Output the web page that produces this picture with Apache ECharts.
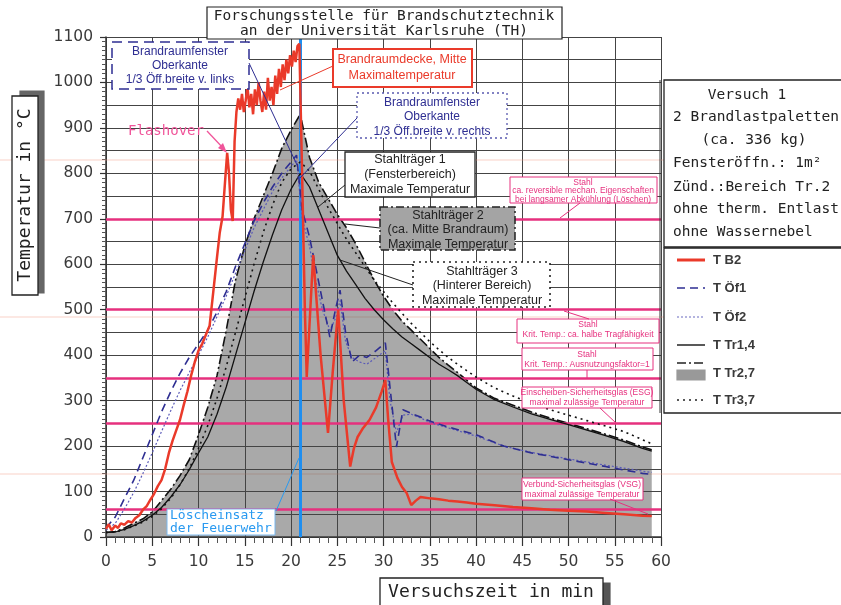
<!DOCTYPE html>
<html>
<head>
<meta charset="utf-8">
<script src="https://cdn.jsdelivr.net/npm/echarts@6/dist/echarts.min.js"></script>
<style>
html,body{margin:0;padding:0;background:#fff;}
#chart{width:841px;height:605px;}
</style>
</head>
<body>
<div id="chart"></div>
<script>
// ---------- DATA ----------
const xTicks = [0,5,10,15,20,25,30,35,40,45,50,55,60];
const yTicks = [0,100,200,300,400,500,600,700,800,900,1000,1100];

// T B2 (Brandraumdecke, Mitte)
const b2Time = [0,0.3,0.6,1,1.3,1.6,2,2.4,2.8,3.2,3.6,4,4.4,4.8,5.2,5.6,6,6.4,6.8,7.2,7.6,8,8.4,8.8,9.2,9.6,10,10.4,10.8,11.2,11.6,12,12.3,12.6,12.9,13.1,13.3,13.5,13.7,13.9,14.1,14.3,14.5,14.7,14.9,15.1,15.3,15.5,15.7,15.9,16.1,16.3,16.5,16.7,16.9,17.1,17.3,17.5,17.7,17.9,18.1,18.3,18.5,18.7,18.9,19.1,19.3,19.5,19.7,19.9,20.1,20.3,20.5,20.7,20.9,21.2,21.5,21.7,22.4,23.2,24,24.5,25.1,25.7,26.4,26.8,27.2,27.8,28.5,29.2,29.8,30.2,30.5,30.9,31.5,32,32.5,33,33.2,33.5,34,35,36,37,38,39,40,42,44,46,48,50,52,54,56,58,59];
const b2Temp = [18,28,15,25,20,30,27,35,32,42,48,60,68,82,95,112,125,150,185,212,235,258,290,320,355,385,410,425,445,465,540,615,670,705,790,845,800,720,695,870,935,965,940,975,935,960,990,945,975,930,985,950,1000,960,935,980,940,1010,960,990,950,1015,975,1030,990,1040,1005,1050,1020,1060,1035,1070,1045,1080,1085,800,500,352,620,400,229,360,500,300,155,195,220,240,258,285,320,345,260,165,130,110,97,70,66,80,88,85,83,80,78,76,73,70,66,63,60,58,56,53,50,47,46];

// T Öf1 / T Öf2 (Brandraumfenster Oberkante)
const ofTime = [0,1,2,3,4,5,6,7,8,9,10,11,12,13,14,15,16,17,18,19,20,20.6,21.2,22,22.6,23.4,24.2,24.8,25.3,25.9,26.6,27.4,28.2,29.2,30.2,30.7,31.4,32.1,33,34,35,37,40,43,46,50,54,58,59];
const of1Temp = [20,44,85,125,175,225,275,320,360,395,425,455,495,540,595,645,695,735,770,800,825,840,720,660,600,520,440,500,543,450,385,400,395,410,427,330,198,280,272,264,255,242,225,200,185,170,155,140,138];
const of2Temp = [15,30,62,98,140,185,232,278,322,362,400,440,485,530,580,630,680,720,760,790,815,830,700,640,570,500,455,480,520,430,395,385,380,395,410,300,230,268,270,262,252,240,222,200,186,172,158,145,142];

// Stahlträger
const trTime = [0,1,2,3,4,5,6,7,8,9,10,11,12,13,14,15,16,17,18,19,20,21,22,23,24,25,26,27,28,29,30,31,32,33,34,35,36,37,38,39,40,42,44,46,48,50,52,54,56,58,59];
const tr14Temp = [10,11,17,25,35,48,65,88,115,148,185,220,270,330,400,470,540,605,665,720,765,800,770,720,670,620,585,555,525,500,478,458,440,425,410,395,380,368,355,340,325,302,286,271,259,247,235,223,210,195,189];
const tr27Temp = [10,12,20,30,40,55,80,105,135,170,225,285,355,455,565,640,700,750,800,855,895,930,835,780,745,710,680,645,605,565,530,500,475,455,435,415,395,378,362,345,328,305,290,275,262,250,238,226,213,198,192];
const tr37Temp = [10,11,16,24,33,45,62,85,115,150,195,245,305,375,450,525,600,670,730,780,810,825,805,765,725,690,655,625,595,565,540,515,492,470,450,430,412,395,380,366,352,328,310,294,280,268,256,244,232,214,205];

// Reference lines
const limitTemps = [700,500,350,250,60];
const fireTime = 21;

// ---------- CHART ----------
const pts = (t,v) => t.map((x,i)=>[x,v[i]]);
const chart = echarts.init(document.getElementById('chart'), null, {renderer:'canvas'});

const mono = '"DejaVu Sans Mono", monospace';
const sans = '"Liberation Sans", Arial, sans-serif';

function box(x,y,w,h,st,z){return {type:'rect',z:z||100,shape:{x:x,y:y,width:w,height:h},style:Object.assign({fill:'#fff',stroke:'#222',lineWidth:1.2},st||{})};}
function txt(x,y,t,st,z){return {type:'text',z:z||101,x:x,y:y,style:Object.assign({text:t,fill:'#222',font:'12px '+sans,align:'center',verticalAlign:'middle'},st||{})};}
function ln(x1,y1,x2,y2,c,w,dash){return {type:'line',z:100,shape:{x1:x1,y1:y1,x2:x2,y2:y2},style:{stroke:c,lineWidth:w||1,lineDash:dash||null}};}

const navy = '#2e2e92';
const pink = '#e6307e';
const red = '#ea3a2a';
const lblue = '#2a9af0';

const g = [];
// faint scan lines
[160,317,474].forEach(y=>g.push(Object.assign(ln(0,y,841,y,'rgba(240,150,130,0.45)',1),{z:1})));

// title
g.push(box(207,7,355,32,{lineWidth:1.2}));
g.push(txt(384,16,'Forschungsstelle für Brandschutztechnik',{font:'14.5px '+mono,fill:'#222'}));
g.push(txt(384,31,'an der Universität Karlsruhe (TH)',{font:'14.5px '+mono,fill:'#222'}));

// y axis title
g.push(box(20,91,24,202,{fill:'#666',stroke:'#666'}));
g.push(box(12,96,26,199,{lineWidth:1.3}));
g.push({type:'text',z:102,x:25,y:195,rotation:Math.PI/2,style:{text:'Temperatur in °C',font:'18px '+mono,fill:'#222',align:'center',verticalAlign:'middle'}});

// x axis title
g.push(box(387,583,223,30,{fill:'#555',stroke:'#555'}));
g.push(box(380,578,223,30,{lineWidth:1.3}));
g.push(txt(491,592,'Versuchszeit in min',{font:'18px '+mono}));

// info box
g.push(box(664,80,190,167,{lineWidth:1.3}));
g.push(ln(660,80,660,413,'#333',1));
g.push(txt(747,95,'Versuch 1',{font:'14.5px '+mono}));
g.push(txt(673,117,'2 Brandlastpaletten',{font:'14.5px '+mono,align:'left'}));
g.push(txt(754,140,'(ca. 336 kg)',{font:'14.5px '+mono}));
g.push(txt(673,163,'Fensteröffn.: 1m²',{font:'14.5px '+mono,align:'left'}));
g.push(txt(673,187,'Zünd.:Bereich Tr.2',{font:'14.5px '+mono,align:'left'}));
g.push(txt(673,209,'ohne therm. Entlast',{font:'14.5px '+mono,align:'left'}));
g.push(txt(673,232,'ohne Wassernebel',{font:'14.5px '+mono,align:'left'}));

// legend box
g.push(box(664,248,190,165,{lineWidth:1.3}));
const legY = [260,288,317,345,373,400];
const legNames = ['T B2','T Öf1','T Öf2','T Tr1,4','T Tr2,7','T Tr3,7'];
legNames.forEach((n,i)=>g.push(txt(713,legY[i],n,{font:'bold 13px '+sans,fill:'#3a3a3a',align:'left'})));
g.push(ln(677,260,705,260,red,3));
g.push(ln(677,288,705,288,navy,1.6,[8,5]));
g.push(ln(677,317,705,317,'#6a6ac0',1.2,[2,2]));
g.push(ln(677,345,705,345,'#222',1.5));
g.push(ln(677,363,705,363,'#222',1.5,[9,3,2,3]));
g.push(box(677,370,28,10,{fill:'#999',stroke:'#999'}));
g.push(ln(677,400,705,400,'#222',1.6,[2,4]));

// annotation: Brandraumfenster links
g.push(box(112,42,137,47,{stroke:navy,lineWidth:1.5,lineDash:[10,6]}));
g.push(txt(180,66,'Brandraumfenster\nOberkante\n1/3 Öff.breite v. links',{fill:navy,lineHeight:14,font:'12px '+sans}));
g.push(ln(249,63,297,165,navy,1));

// Brandraumdecke
g.push(box(333,49,139,38,{stroke:red,lineWidth:2}));
g.push(txt(402,68,'Brandraumdecke, Mitte\nMaximaltemperatur',{fill:red,lineHeight:16,font:'12.5px '+sans}));
g.push(ln(333,66,280,90,red,1));

// Brandraumfenster rechts
g.push(box(357,93,150,45,{stroke:'#5a5ab0',lineWidth:1.3,lineDash:[2,3]}));
g.push(txt(432,117,'Brandraumfenster\nOberkante\n1/3 Öff.breite v. rechts',{fill:navy,lineHeight:14.5,font:'12px '+sans}));
g.push(ln(357,118,300,178,navy,1));

// Stahlträger 1
g.push(box(345,152,130,45,{lineWidth:1.3}));
g.push(txt(410,175,'Stahlträger 1\n(Fensterbereich)\nMaximale Temperatur',{lineHeight:15,font:'12.5px '+sans}));
g.push(ln(345,185,318,207,'#222',1));

// Stahlträger 2
g.push(box(380,207,135,43,{fill:'#a4a4a4',stroke:'#222',lineWidth:1.5,lineDash:[8,3,2,3]}));
g.push(txt(448,230,'Stahlträger 2\n(ca. Mitte Brandraum)\nMaximale Temperatur',{lineHeight:14.5,font:'12.5px '+sans}));
g.push(ln(380,228,345,224,'#222',1.2));

// Stahlträger 3
g.push(box(413,262,137,45,{stroke:'#222',lineWidth:1.6,lineDash:[2,4]}));
g.push(txt(482,286,'Stahlträger 3\n(Hinterer Bereich)\nMaximale Temperatur',{lineHeight:14.5,font:'12.5px '+sans}));
g.push(ln(413,285,340,260,'#222',1));

// pink notes
const pf = '8.5px '+sans;
g.push(box(510,177,147,26,{stroke:pink,lineWidth:1}));
g.push(txt(583,191,'Stahl\nca. reversible mechan. Eigenschaften\nbei langsamer Abkühlung (Löschen)',{fill:pink,lineHeight:8.2,font:pf}));
g.push(ln(580,203,560,218,pink,1));

g.push(box(517,319,142,24,{stroke:pink,lineWidth:1}));
g.push(txt(588,330,'Stahl\nKrit. Temp.: ca. halbe Tragfähigkeit',{fill:pink,lineHeight:10,font:pf}));
g.push(ln(589,319,564,311,pink,1));

g.push(box(522,348,131,22,{stroke:pink,lineWidth:1}));
g.push(txt(587,360,'Stahl\nKrit. Temp.: Ausnutzungsfaktor=1',{fill:pink,lineHeight:10,font:pf}));
g.push(ln(587,370,587,378,pink,1));

g.push(box(522,387,130,21,{stroke:pink,lineWidth:1}));
g.push(txt(587,398,'Einscheiben-Sicherheitsglas (ESG)\nmaximal zulässige Temperatur',{fill:pink,lineHeight:10,font:pf}));
g.push(ln(600,408,616,423,pink,1));

g.push(box(522,478,121,22,{stroke:pink,lineWidth:1}));
g.push(txt(582,490,'Verbund-Sicherheitsglas (VSG)\nmaximal zulässige Temperatur',{fill:pink,lineHeight:10,font:pf}));
g.push(ln(610,499,648,514,pink,1));

// Flashover
g.push(txt(166,131,'Flashover',{fill:'#f0559a',font:'14px '+mono}));
g.push(ln(207,131,224,149,'#f0559a',1.3));
g.push({type:'polygon',z:101,shape:{points:[[227,153],[218,148],[223,143]]},style:{fill:'#f0559a'}});

// Löscheinsatz
g.push(box(167,509,108,26,{stroke:'#7ab8ee',lineWidth:1}));
g.push(txt(170,516,'Löscheinsatz',{fill:lblue,font:'13px '+mono,align:'left'}));
g.push(txt(170,529,'der Feuerwehr',{fill:lblue,font:'13px '+mono,align:'left'}));
g.push(ln(276,511,299,458,lblue,1));

const option = {
  animation:false,
  backgroundColor:'#fff',
  grid:{left:106,right:180,top:37,bottom:68,show:false},
  xAxis:{
    type:'value',min:xTicks[0],max:xTicks[xTicks.length-1],interval:5,
    axisLine:{show:true,onZero:false,lineStyle:{color:'#333',width:1.5}},
    axisTick:{show:true,length:9,lineStyle:{color:'#333',width:1.2}},
    minorTick:{show:true,splitNumber:5,length:6,lineStyle:{color:'#555'}},
    axisLabel:{margin:17,color:'#3a3a3a',fontFamily:'DejaVu Sans',fontSize:15.5,
      formatter:v=>xTicks.includes(v)?String(v):''},
    splitLine:{show:true,lineStyle:{color:'#444',width:1}}
  },
  yAxis:[{
    type:'value',min:yTicks[0],max:yTicks[yTicks.length-1],interval:100,
    axisLine:{show:true,lineStyle:{color:'#333',width:1.5}},
    axisTick:{show:true,length:6,lineStyle:{color:'#333',width:1.2}},
    minorTick:{show:true,splitNumber:10,length:4,lineStyle:{color:'#555'}},
    axisLabel:{margin:13,color:'#3a3a3a',fontFamily:'DejaVu Sans',fontSize:15.5,
      formatter:v=>yTicks.includes(v)?String(v):''},
    splitLine:{show:false}
  },{
    type:'value',min:0,max:1100,interval:50,position:'left',
    axisLine:{show:false},axisTick:{show:false},axisLabel:{show:false},
    splitLine:{show:true,lineStyle:{color:'#444',width:1}}
  }],
  graphic:{elements:g},
  series:[
    {name:'T Tr2,7',type:'line',data:pts(trTime,tr27Temp),symbol:'none',z:2,
      lineStyle:{color:'#111',width:1.6,type:[10,3,2,3]},
      areaStyle:{color:'rgba(70,70,70,0.66)'}},
    {name:'limits',type:'line',data:[],z:4,
      markLine:{silent:true,symbol:'none',label:{show:false},
        lineStyle:{color:pink,width:2.5,type:'solid'},
        data:limitTemps.map(v=>({yAxis:v}))}},
    {name:'T Tr1,4',type:'line',data:pts(trTime,tr14Temp),symbol:'none',z:5,
      lineStyle:{color:'#111',width:1.3}},
    {name:'T Tr3,7',type:'line',data:pts(trTime,tr37Temp),symbol:'none',z:5,
      lineStyle:{color:'#111',width:1.6,type:[2,4]}},
    {name:'T Öf2',type:'line',data:pts(ofTime,of2Temp),symbol:'none',z:6,
      lineStyle:{color:'#5a5ab8',width:1.2,type:[2,2]}},
    {name:'T Öf1',type:'line',data:pts(ofTime,of1Temp),symbol:'none',z:6,
      lineStyle:{color:navy,width:1.6,type:[8,5]}},
    {name:'T B2',type:'line',data:pts(b2Time,b2Temp),symbol:'none',z:8,
      lineStyle:{color:red,width:2.5}},
    {name:'fire',type:'line',data:[],z:9,
      markLine:{silent:true,symbol:'none',label:{show:false},
        lineStyle:{color:'#1e8ef0',width:3,type:'solid'},
        data:[{xAxis:fireTime}]}}
  ]
};
chart.setOption(option);
</script>
</body>
</html>
